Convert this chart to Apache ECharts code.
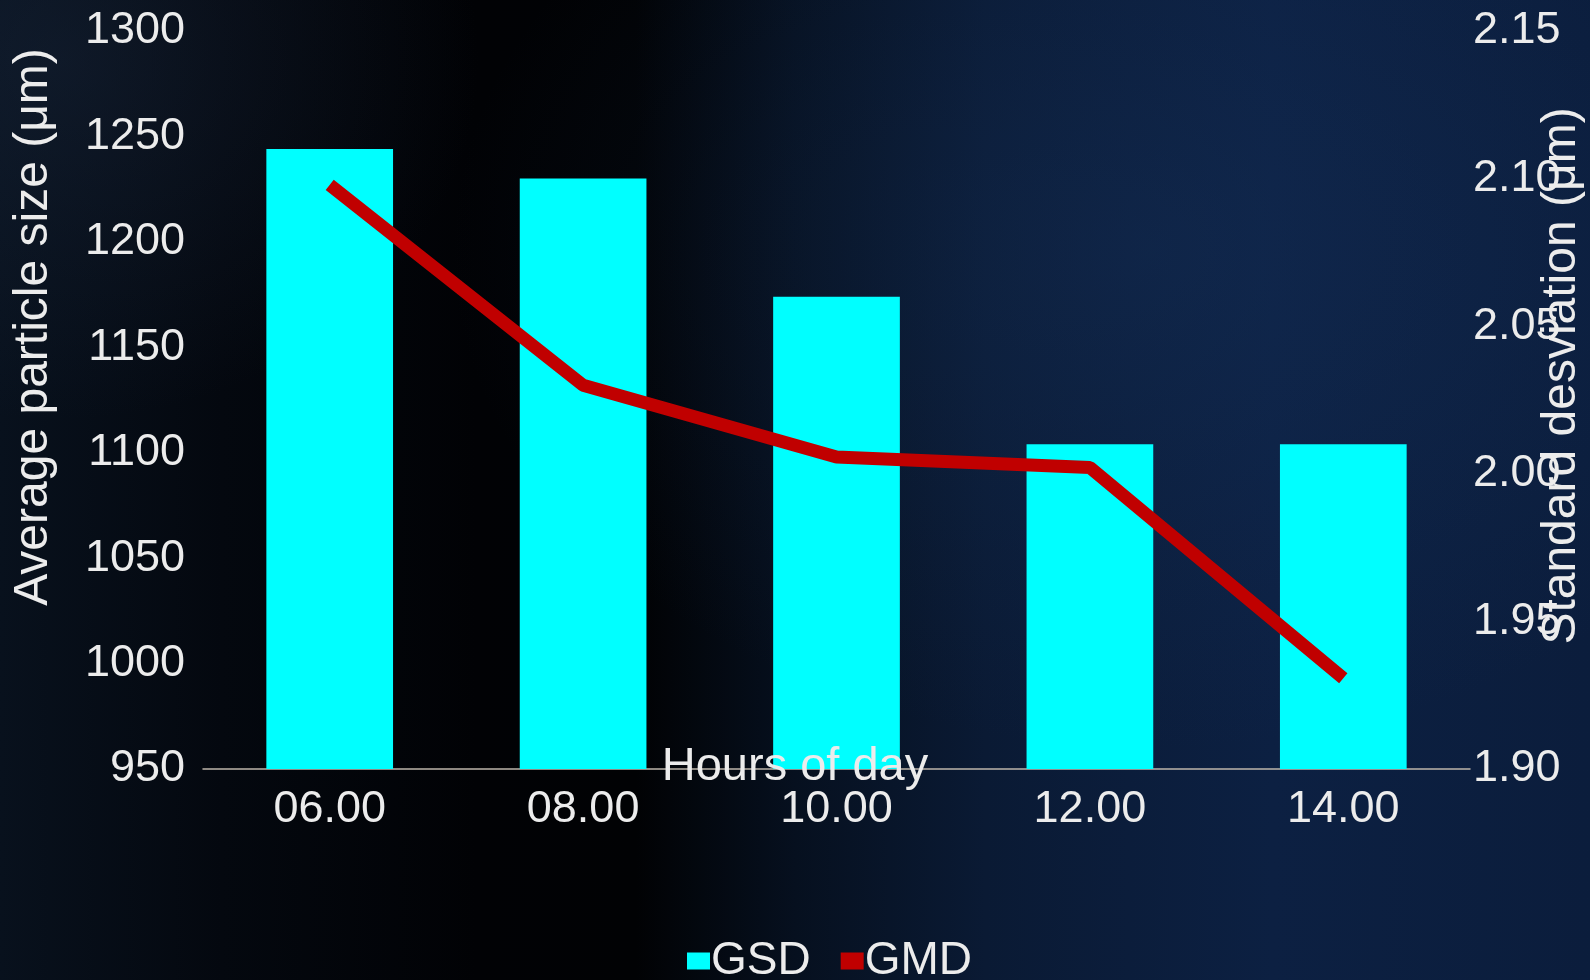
<!DOCTYPE html>
<html>
<head>
<meta charset="utf-8">
<title>GSD / GMD by hour</title>
<script src="https://cdn.jsdelivr.net/npm/echarts@6/dist/echarts.min.js"></script>
<style>
  html, body { margin: 0; padding: 0; }
  body {
    width: 1590px; height: 980px; overflow: hidden;
    background:
      radial-gradient(ellipse 420px 360px at 60px 60px, rgba(30,45,70,0.35), rgba(0,0,0,0) 100%),
      radial-gradient(ellipse 700px 500px at 1150px 250px, rgba(25,55,100,0.3), rgba(0,0,0,0) 100%),
      linear-gradient(90deg, #08111d 0%, #04080f 14%, #010205 30%, #010204 40%, #06101f 50%, #0a1a34 62%, #0c2042 80%, #0b1d3c 100%);
  }
  #chart { width: 1590px; height: 980px; }
</style>
</head>
<body>
<div id="chart"></div>
<script>
const hours = ['06.00', '08.00', '10.00', '12.00', '14.00']
const gsd = [2.11, 2.10, 2.06, 2.01, 2.01]
const gmd = [1227, 1132, 1098, 1093, 993]

const font = 'Liberation Sans, Arial, sans-serif'
const textColor = '#ececec'

const myChart = echarts.init(document.getElementById('chart'))
myChart.setOption({
  backgroundColor: 'transparent',
  textStyle: { fontFamily: font },
  grid: {
    left: 203,
    right: 120,
    top: 31,
    bottom: 211,
    containLabel: false,
    outerBoundsMode: 'none'
  },
  legend: {
    data: ['GSD', 'GMD'],
    left: 687,
    top: 938,
    padding: 0,
    icon: 'rect',
    itemWidth: 23,
    itemHeight: 17,
    itemGap: 30,
    selectedMode: false,
    textStyle: {
      color: textColor,
      fontSize: 46,
      lineHeight: 46,
      padding: [0, 0, 0, -4]
    }
  },
  xAxis: {
    type: 'category',
    data: hours,
    axisTick: { show: false },
    axisLine: { lineStyle: { color: '#bdb5ab', width: 1.5 } },
    axisLabel: { color: textColor, fontSize: 45, margin: 18 }
  },
  yAxis: [
    {
      type: 'value',
      min: 950,
      max: 1300,
      interval: 50,
      splitLine: { show: false },
      axisLine: { show: false },
      axisTick: { show: false },
      axisLabel: {
        color: textColor,
        fontSize: 45,
        margin: 18,
        formatter: function (v) { return String(v) }
      }
    },
    {
      type: 'value',
      min: 1.9,
      max: 2.15,
      interval: 0.05,
      position: 'right',
      splitLine: { show: false },
      axisLine: { show: false },
      axisTick: { show: false },
      axisLabel: {
        color: textColor,
        fontSize: 45,
        margin: 3,
        formatter: function (v) { return v.toFixed(2) }
      }
    }
  ],
  // axis titles sit where the original put them (off-centre, overlapping labels)
  graphic: [
    {
      type: 'text',
      x: 34,
      y: 327,
      rotation: Math.PI / 2,
      style: {
        text: 'Average particle size (μm)',
        fill: textColor,
        font: '48px ' + font,
        align: 'center',
        verticalAlign: 'middle'
      }
    },
    {
      type: 'text',
      x: 1562,
      y: 376,
      rotation: Math.PI / 2,
      style: {
        text: 'Standard desviation (μm)',
        fill: textColor,
        font: '48px ' + font,
        align: 'center',
        verticalAlign: 'middle'
      }
    },
    {
      type: 'text',
      x: 795,
      y: 767,
      z: 10,
      style: {
        text: 'Hours of day',
        fill: textColor,
        font: '47px ' + font,
        align: 'center',
        verticalAlign: 'middle'
      }
    }
  ],
  series: [
    {
      name: 'GSD',
      type: 'bar',
      yAxisIndex: 1,
      data: gsd,
      barWidth: '50%',
      itemStyle: { color: '#00ffff' }
    },
    {
      name: 'GMD',
      type: 'line',
      yAxisIndex: 0,
      data: gmd,
      showSymbol: false,
      symbol: 'none',
      itemStyle: { color: '#c00000' },
      lineStyle: { color: '#c00000', width: 13, cap: 'butt' }
    }
  ]
})
</script>
</body>
</html>
